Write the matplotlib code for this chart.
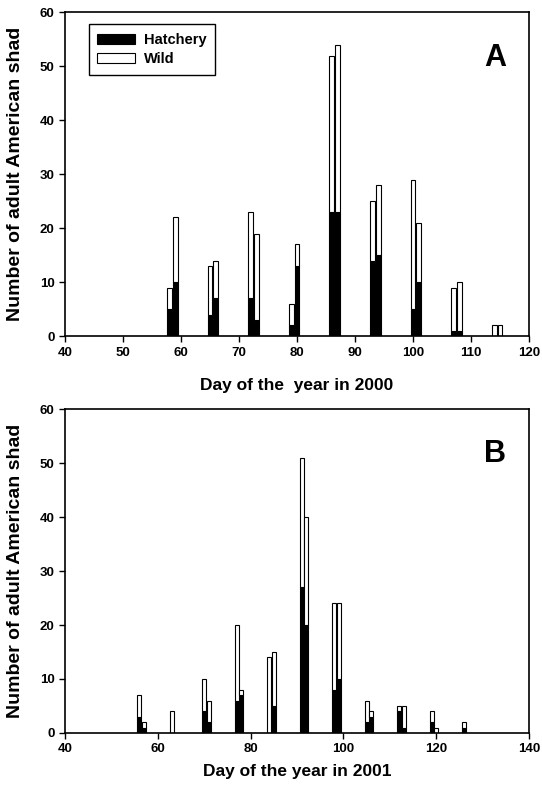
import matplotlib
matplotlib.use("Agg")
import matplotlib.pyplot as plt
import numpy as np

plt.rcParams['font.family'] = ['Liberation Sans', 'DejaVu Sans']
plt.rcParams['font.weight'] = 'bold'

# panel A, year 2000
days_2000 = [58, 59, 65, 66, 72, 73, 79, 80, 86, 87, 93, 94, 100, 101, 107, 108, 114, 115]
hatch_2000 = [5, 10, 4, 7, 7, 3, 2, 13, 23, 23, 14, 15, 5, 10, 1, 1, 0, 0]
total_2000 = [9, 22, 13, 14, 23, 19, 6, 17, 52, 54, 25, 28, 29, 21, 9, 10, 2, 2]

# panel B, year 2001
days_2001 = [56, 57, 63, 70, 71, 77, 78, 84, 85, 91, 92, 98, 99, 105, 106, 112, 113, 119, 120, 126]
hatch_2001 = [3, 1, 0, 4, 2, 6, 7, 0, 5, 27, 20, 8, 10, 2, 3, 4, 1, 2, 0, 1]
total_2001 = [7, 2, 4, 10, 6, 20, 8, 14, 15, 51, 40, 24, 24, 6, 4, 5, 5, 4, 1, 2]


def draw_panel(ax, days, hatch, total, xlim, xstep, xlabel, letter, xpad, legend=False):
    hatch = np.array(hatch)
    wild = np.array(total) - hatch
    ax.bar(days, hatch, width=0.85, color='black', edgecolor='black', linewidth=0.8, label='Hatchery')
    ax.bar(days, wild, bottom=hatch, width=0.85, color='white', edgecolor='black', linewidth=0.8, label='Wild')
    ax.set_xlim(*xlim)
    ax.set_ylim(0, 60)
    ax.set_xticks(np.arange(xlim[0], xlim[1] + 1, xstep))
    ax.set_yticks(np.arange(0, 61, 10))
    ax.tick_params(direction='out', length=4, labelsize=9.5, width=1)
    for lbl in ax.get_xticklabels() + ax.get_yticklabels():
        lbl.set_fontweight('bold')
    for s in ax.spines.values():
        s.set_linewidth(1.2)
    ax.set_xlabel(xlabel, fontsize=12.5, fontweight='bold', labelpad=xpad)
    ax.set_ylabel('Number of adult American shad', fontsize=14, fontweight='bold')
    ax.yaxis.set_label_coords(-0.088, 0.5)
    ax.text(0.95, 0.86, letter, transform=ax.transAxes, fontsize=22, fontweight='bold', ha='right', va='center')
    if legend:
        leg = ax.legend(loc='upper left', bbox_to_anchor=(0.035, 0.985), fancybox=False, edgecolor='black',
                        framealpha=1, prop={'weight': 'bold', 'size': 10.5}, handlelength=2.6,
                        handleheight=0.7, handletextpad=0.6, borderpad=0.6, labelspacing=0.35)
        leg.get_frame().set_linewidth(1.0)


fig = plt.figure(figsize=(5.42, 7.95), dpi=100)
ax1 = fig.add_axes([0.120, 0.577, 0.856, 0.4075])
ax2 = fig.add_axes([0.120, 0.078, 0.856, 0.4075])

draw_panel(ax1, days_2000, hatch_2000, total_2000, (40, 120), 10, 'Day of the  year in 2000', 'A', 14, legend=True)
draw_panel(ax2, days_2001, hatch_2001, total_2001, (40, 140), 20, 'Day of the year in 2001', 'B', 6)

fig.savefig('out.png', dpi=100)
